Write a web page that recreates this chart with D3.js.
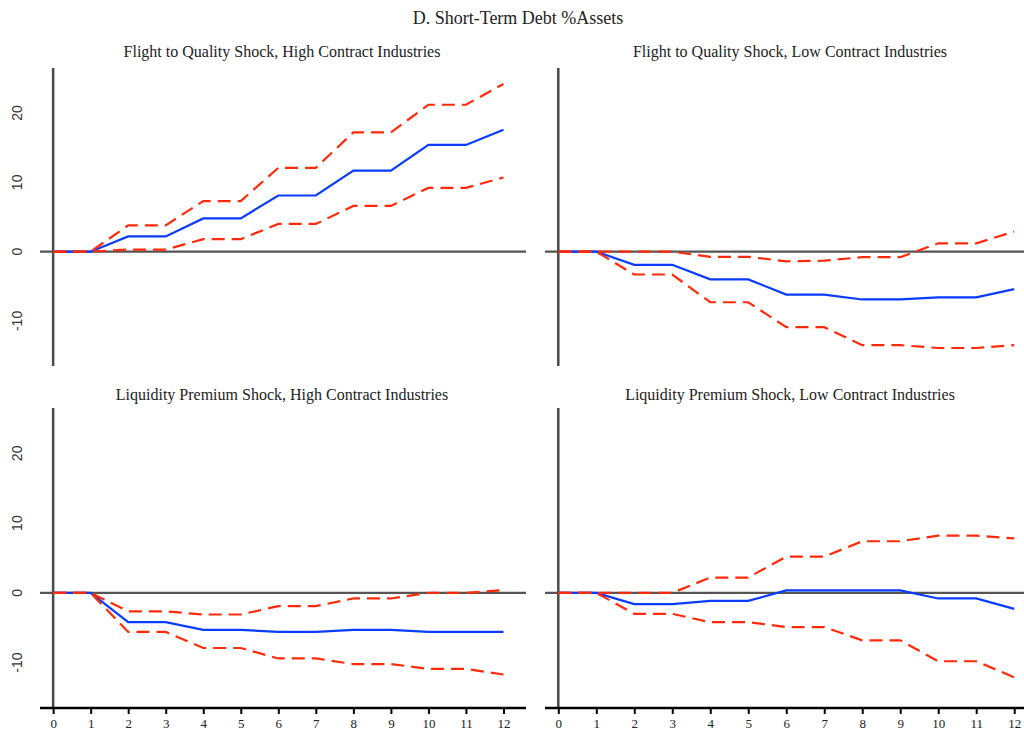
<!DOCTYPE html>
<html>
<head>
<meta charset="utf-8">
<script src="https://cdn.jsdelivr.net/npm/d3@7"></script>
<style>
	body { margin: 0; background: #fff; }
	svg text { fill: #222; }
</style>
</head>
<body>
<svg id="chart" width="1024" height="736"></svg>
<script>
// horizons 0..12
var horizons = [0, 1, 2, 3, 4, 5, 6, 7, 8, 9, 10, 11, 12];
var yTicks = [-10, 0, 10, 20];

var panelTitles = [
	'Flight to Quality Shock, High Contract Industries',
	'Flight to Quality Shock, Low Contract Industries',
	'Liquidity Premium Shock, High Contract Industries',
	'Liquidity Premium Shock, Low Contract Industries'
];

// point estimates
var fqHighMid = [0, 0, 2.2, 2.2, 4.8, 4.8, 8.1, 8.1, 11.7, 11.7, 15.4, 15.4, 17.6];
var fqLowMid = [0, 0, -1.9, -1.9, -4.0, -4.0, -6.2, -6.2, -6.9, -6.9, -6.6, -6.6, -5.4];
var lpHighMid = [0, 0, -4.2, -4.2, -5.3, -5.3, -5.6, -5.6, -5.3, -5.3, -5.6, -5.6, -5.6];
var lpLowMid = [0, 0, -1.6, -1.6, -1.15, -1.15, 0.35, 0.35, 0.35, 0.35, -0.8, -0.8, -2.3];

// upper bands
var fqHighUp = [0, 0, 3.8, 3.8, 7.3, 7.3, 12.1, 12.1, 17.2, 17.2, 21.2, 21.2, 24.2];
var fqLowUp = [0, 0, 0, 0, -0.75, -0.75, -1.4, -1.3, -0.8, -0.8, 1.2, 1.2, 2.9];
var lpHighUp = [0, 0, -2.65, -2.65, -3.1, -3.1, -1.9, -1.9, -0.8, -0.8, 0, 0, 0.4];
var lpLowUp = [0, 0, 0, 0, 2.2, 2.2, 5.2, 5.2, 7.4, 7.4, 8.2, 8.2, 7.8];

// lower bands
var fqHighLo = [0, 0, 0.3, 0.3, 1.8, 1.8, 4.0, 4.0, 6.6, 6.6, 9.2, 9.2, 10.7];
var fqLowLo = [0, 0, -3.3, -3.3, -7.3, -7.3, -10.9, -10.9, -13.5, -13.5, -13.9, -13.9, -13.5];
var lpHighLo = [0, 0, -5.6, -5.6, -7.9, -7.9, -9.4, -9.4, -10.2, -10.2, -10.9, -10.9, -11.7];
var lpLowLo = [0, 0, -3.0, -3.0, -4.2, -4.2, -4.9, -4.9, -6.8, -6.8, -9.8, -9.8, -12.1];

var panels = [
	{ title: panelTitles[0], mid: fqHighMid, up: fqHighUp, lo: fqHighLo, col: 0, row: 0 },
	{ title: panelTitles[1], mid: fqLowMid, up: fqLowUp, lo: fqLowLo, col: 1, row: 0 },
	{ title: panelTitles[2], mid: lpHighMid, up: lpHighUp, lo: lpHighLo, col: 0, row: 1 },
	{ title: panelTitles[3], mid: lpLowMid, up: lpLowUp, lo: lpLowLo, col: 1, row: 1 }
];

var svg = d3.select('#chart');
var serif = '"Liberation Serif", "DejaVu Serif", serif';

svg.append('text')
	.attr('x', 518).attr('y', 24)
	.attr('text-anchor', 'middle')
	.style('font-family', serif)
	.style('font-size', '18px')
	.text('D. Short-Term Debt %Assets');

var colLeft = [40, 545];
var colWidth = [486, 492];
var rowTop = [68, 408];
var rowBottom = [366, 708];
var titleY = [57, 400];

panels.forEach(function(p) {
	var left = colLeft[p.col];
	var plotW = colWidth[p.col];
	var x = d3.scaleLinear()
		.domain([-0.35, 12.6])
		.range([left, left + plotW]);
	var y = d3.scaleLinear()
		.domain([-16.5, 26.5])
		.range([rowBottom[p.row], rowTop[p.row]]);

	var g = svg.append('g');

	g.append('text')
		.attr('x', (x.range()[0] + x.range()[1]) / 2 - 1).attr('y', titleY[p.row])
		.attr('text-anchor', 'middle')
		.style('font-family', serif)
		.style('font-size', '16px')
		.text(p.title);

	// zero line
	g.append('line')
		.attr('x1', x.range()[0]).attr('x2', x.range()[1])
		.attr('y1', y(0)).attr('y2', y(0))
		.attr('stroke', '#555').attr('stroke-width', 2.2);

	// vertical axis
	g.append('line')
		.attr('x1', x(0)).attr('x2', x(0))
		.attr('y1', y.range()[1]).attr('y2', y.range()[0])
		.attr('stroke', '#4a4a4a').attr('stroke-width', 2.5);

	if (p.col == 0) {
		g.selectAll('.ylab')
			.data(yTicks)
			.enter()
			.append('text')
			.attr('class', 'ylab')
			.attr('transform', function(d) { return 'translate(22,' + y(d) + ') rotate(-90)'; })
			.attr('text-anchor', 'middle')
			.style('font-family', '"Liberation Sans", Arial, sans-serif')
			.style('font-size', '14px')
			.style('fill', '#333')
			.text(function(d) { return d; });
	}

	if (p.row == 1) {
		var xAxis = d3.axisBottom(x)
			.tickValues(horizons)
			.tickSize(6)
			.tickFormat(d3.format('d'));
		var ax = g.append('g')
			.attr('transform', 'translate(0,' + rowBottom[p.row] + ')')
			.call(xAxis);
		ax.select('.domain')
			.attr('d', 'M' + x.range()[0] + ',0H' + x.range()[1])
			.attr('stroke', '#000').attr('stroke-width', 2.5);
		ax.selectAll('.tick line').attr('stroke', '#000').attr('stroke-width', 2);
		ax.selectAll('.tick text')
			.attr('y', 11)
			.style('font-family', serif)
			.style('font-size', '13px')
			.style('fill', '#222');
	}

	var line = d3.line()
		.x(function(d, i) { return x(horizons[i]); })
		.y(function(d) { return y(d); });

	g.append('path')
		.datum(p.mid)
		.attr('d', line)
		.attr('fill', 'none')
		.attr('stroke', '#0a3cff')
		.attr('stroke-width', 2.2);

	[p.up, p.lo].forEach(function(band) {
		g.append('path')
			.datum(band)
			.attr('d', line)
			.attr('fill', 'none')
			.attr('stroke', '#ff2a0a')
			.attr('stroke-width', 2.2)
			.attr('stroke-dasharray', '13,7');
	});
});
</script>
</body>
</html>
